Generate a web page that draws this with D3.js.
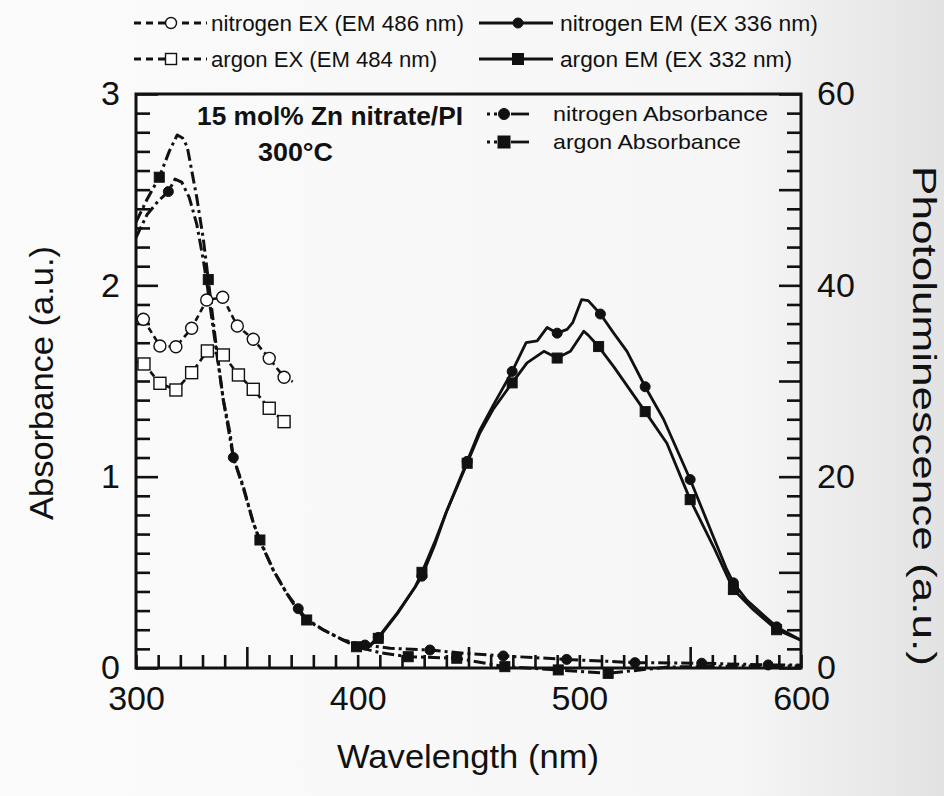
<!DOCTYPE html>
<html>
<head>
<meta charset="utf-8">
<script src="https://cdn.jsdelivr.net/npm/d3@7"></script>
<style>
  html, body { margin: 0; padding: 0; background: #f8f8f8; }
  svg { display: block; }
  text { font-family: "Liberation Sans", Arial, Helvetica, sans-serif; fill: #111; }
</style>
</head>
<body>
<svg id="chart" width="944" height="796"></svg>
<script>
// [wavelength nm, absorbance a.u.]
var nitrogenAbs = [[300,2.25],[305,2.37],[310,2.44],[314.6,2.49],[317.6,2.555],[320.6,2.54],[324,2.46],
  [327.4,2.32],[330.4,2.13],[332,2.01],[335.5,1.72],[339.4,1.40],[342.4,1.23],[343.9,1.10],[348.4,0.95],
  [352.9,0.76],[356,0.66],[362,0.51],[368,0.39],[373.2,0.31],[377,0.255],[384.5,0.20],[393.5,0.146],
  [403.3,0.12],[414.6,0.103],[432.6,0.094],[450,0.075],[465.7,0.063],[494.3,0.045],[525.1,0.028],
  [555.2,0.025],[585.2,0.016],[600,0.015]];
var nitrogenAbsMarks = [314.6, 343.9, 373.2, 403.3, 432.6, 465.7, 494.3, 525.1, 555.2, 585.2];

var argonAbs = [[300,2.33],[305,2.45],[310.5,2.565],[315,2.70],[318.6,2.786],[321,2.77],[323.1,2.725],
  [327.4,2.46],[330.4,2.24],[332.6,2.03],[336,1.70],[339.4,1.40],[343.9,1.10],[348.4,0.94],[352.9,0.76],
  [355.9,0.669],[362,0.51],[368,0.39],[373,0.30],[377,0.251],[384.5,0.199],[393.5,0.146],[399.5,0.111],
  [410,0.08],[422.8,0.059],[444.7,0.051],[466.4,0.007],[490.5,-0.01],[513,-0.028],[540,0.005],
  [570,0.01],[600,0.01]];
var argonAbsMarks = [310.5, 332.6, 355.9, 377, 399.5, 422.8, 444.7, 466.4, 490.5, 513];

// [wavelength nm, photoluminescence a.u.]
var nitrogenEx = [[303.3,36.45],[310.8,33.66],[318,33.58],[325.1,35.51],[331.9,38.47],[339.1,38.75],
  [345.7,35.75],[352.9,34.36],[360.1,32.37],[366.8,30.39],[370.7,29.93]];
var nitrogenExMarks = [303.3, 310.8, 318, 325.1, 331.9, 339.1, 345.7, 352.9, 360.1, 366.8];

var argonEx = [[303.6,31.78],[310.8,29.76],[318,29.06],[325.1,30.87],[332.2,33.14],[339.4,32.72],
  [346.2,30.63],[352.9,29.13],[360.1,27.15],[366.8,25.75]];
var argonExMarks = [303.6, 310.8, 318, 325.1, 332.2, 339.4, 346.2, 352.9, 360.1, 366.8];

var nitrogenEm = [[400,2.0],[405,2.3],[409.3,3.2],[418,5.8],[426,8.5],[429,9.6],[435,13.0],[440,16.3],
  [449.4,21.6],[455,24.8],[461,27.4],[469.7,31.0],[476,34.0],[481,34.2],[485.5,35.6],[490,35.0],
  [494.5,35.4],[497,36.1],[501,38.5],[504,38.4],[509.5,37.0],[515.5,35.0],[521.5,33.1],[529.7,29.4],
  [538,26.0],[550,19.7],[560.5,13.7],[566.5,10.3],[569.5,8.9],[575.5,7.1],[589,4.3],[600,2.9]];
var nitrogenEmMarks = [409.3, 429, 449.4, 469.7, 490, 509.5, 529.7, 550, 569.5, 589];

var argonEm = [[400,2.0],[405,2.2],[409.3,3.1],[418,5.7],[426,8.5],[429,10.0],[435,13.3],[440,16.3],
  [449.4,21.4],[455,24.5],[461,27.0],[469.7,29.8],[476.4,31.9],[484,33.1],[490,32.4],[496,33.1],
  [502,35.2],[504,34.8],[508.7,33.6],[515.5,31.5],[529.7,26.8],[539.5,23.5],[550,17.6],[560.5,12.7],
  [569.5,8.2],[578.5,6.1],[589,4.0],[600,2.9]];
var argonEmMarks = [409.3, 429, 449.4, 469.7, 490, 508.7, 529.7, 550, 569.5, 589];

var xTicks = d3.range(300, 601, 10);
var absTicks = d3.range(31).map(function(i) { return i / 10; });
var plTicks = d3.range(0, 61, 2);

var W = 944, H = 796;
var frame = { left: 136, right: 801, top: 94, bottom: 668 };
var ink = '#111';

var svg = d3.select('#chart');

var defs = svg.append('defs');
var paper = defs.append('linearGradient').attr('id', 'paper')
  .attr('x1', '0%').attr('x2', '100%').attr('y1', '0%').attr('y2', '0%');
paper.append('stop').attr('offset', '0%').attr('stop-color', '#fbfbfb');
paper.append('stop').attr('offset', '78%').attr('stop-color', '#f6f6f6');
paper.append('stop').attr('offset', '100%').attr('stop-color', '#e2e2e2');
svg.append('rect').attr('width', W).attr('height', H).attr('fill', 'url(#paper)');

var x = d3.scaleLinear().domain([300, 600]).range([frame.left, frame.right]);
var yAbs = d3.scaleLinear().domain([0, 3]).range([frame.bottom, frame.top]);
var yPL = d3.scaleLinear().domain([0, 60]).range([frame.bottom, frame.top]);

function styleAxis(g) {
  g.select('.domain').remove();
  g.selectAll('.tick line').attr('stroke', ink).attr('stroke-width', 2.6);
  g.selectAll('.tick text')
    .attr('font-size', 34)
    .attr('fill', ink)
    .attr('font-family', '"Liberation Sans", Arial, sans-serif');
}

function isWhole(d) { return Math.abs(d - Math.round(d)) < 1e-6; }

// bottom: minor every 10 nm, long ticks at the half hundreds
svg.append('g')
  .attr('transform', 'translate(0,' + frame.bottom + ')')
  .call(d3.axisBottom(x).tickValues(xTicks)
    .tickSizeInner(-13).tickSizeOuter(0).tickPadding(18)
    .tickFormat(function(d) { return d % 100 === 0 ? d : ''; }))
  .call(styleAxis)
  .selectAll('.tick line')
    .attr('y2', function(d) { return d % 100 === 50 ? -21 : -13; });

svg.append('g')
  .attr('transform', 'translate(' + frame.left + ',0)')
  .call(d3.axisLeft(yAbs).tickValues(absTicks)
    .tickSizeInner(-14).tickSizeOuter(0).tickPadding(16)
    .tickFormat(function(d) { return isWhole(d) ? Math.round(d) : ''; }))
  .call(styleAxis)
  .selectAll('.tick line')
    .attr('x2', function(d) { return isWhole(d) ? 22 : 14; });

svg.append('g')
  .attr('transform', 'translate(' + frame.right + ',0)')
  .call(d3.axisRight(yPL).tickValues(plTicks)
    .tickSizeInner(-14).tickSizeOuter(0).tickPadding(16)
    .tickFormat(function(d) { return d % 20 === 0 ? d : ''; }))
  .call(styleAxis)
  .selectAll('.tick line')
    .attr('x2', function(d) { return d % 10 === 0 ? -22 : -14; });

svg.append('rect')
  .attr('x', frame.left).attr('y', frame.top)
  .attr('width', frame.right - frame.left).attr('height', frame.bottom - frame.top)
  .attr('fill', 'none').attr('stroke', ink).attr('stroke-width', 3);

// axis titles
svg.append('text')
  .attr('x', 468).attr('y', 768)
  .attr('text-anchor', 'middle').attr('font-size', 33)
  .attr('textLength', 262).attr('lengthAdjust', 'spacingAndGlyphs')
  .text('Wavelength (nm)');

svg.append('text')
  .attr('transform', 'translate(53,383) rotate(-90)')
  .attr('text-anchor', 'middle').attr('font-size', 33)
  .attr('textLength', 274).attr('lengthAdjust', 'spacingAndGlyphs')
  .text('Absorbance (a.u.)');

svg.append('text')
  .attr('transform', 'translate(913,416) rotate(90)')
  .attr('text-anchor', 'middle').attr('font-size', 33)
  .attr('textLength', 500).attr('lengthAdjust', 'spacingAndGlyphs')
  .text('Photoluminescence (a.u.)');

// curves
function curve(yScale) {
  return d3.line()
    .x(function(d) { return x(d[0]); })
    .y(function(d) { return yScale(d[1]); });
}

function pick(data, marks) {
  return data.filter(function(d) { return marks.indexOf(d[0]) >= 0; });
}

var absDash = '12,4,3,4';
var exDash = '6,4';

var plot = svg.append('g');

function drawLine(data, yScale, dash, width) {
  plot.append('path')
    .datum(data)
    .attr('d', curve(yScale))
    .attr('fill', 'none')
    .attr('stroke', ink)
    .attr('stroke-width', width)
    .attr('stroke-linejoin', 'round')
    .attr('stroke-dasharray', dash);
}

function drawCircles(data, yScale, r, filled) {
  plot.append('g').selectAll('circle')
    .data(data)
    .enter().append('circle')
      .attr('cx', function(d) { return x(d[0]); })
      .attr('cy', function(d) { return yScale(d[1]); })
      .attr('r', r)
      .attr('fill', filled ? ink : '#fff')
      .attr('stroke', ink)
      .attr('stroke-width', filled ? 1 : 1.4);
}

function drawSquares(data, yScale, s, filled) {
  plot.append('g').selectAll('rect')
    .data(data)
    .enter().append('rect')
      .attr('x', function(d) { return x(d[0]) - s / 2; })
      .attr('y', function(d) { return yScale(d[1]) - s / 2; })
      .attr('width', s)
      .attr('height', s)
      .attr('fill', filled ? ink : '#fff')
      .attr('stroke', ink)
      .attr('stroke-width', filled ? 1 : 1.4);
}

drawLine(nitrogenEx, yPL, exDash, 2.6);
drawLine(argonEx, yPL, exDash, 2.6);
drawLine(argonAbs, yAbs, absDash, 3);
drawLine(nitrogenAbs, yAbs, absDash, 3);
drawLine(nitrogenEm, yPL, null, 2.8);
drawLine(argonEm, yPL, null, 2.8);

drawCircles(pick(nitrogenEx, nitrogenExMarks), yPL, 6, false);
drawSquares(pick(argonEx, argonExMarks), yPL, 12, false);
drawCircles(pick(nitrogenAbs, nitrogenAbsMarks), yAbs, 5, true);
drawSquares(pick(argonAbs, argonAbsMarks), yAbs, 10, true);
drawCircles(pick(nitrogenEm, nitrogenEmMarks), yPL, 5, true);
drawSquares(pick(argonEm, argonEmMarks), yPL, 10, true);

// annotation
svg.append('text')
  .attr('x', 197).attr('y', 125)
  .attr('font-size', 25).attr('font-weight', 'bold')
  .attr('textLength', 266).attr('lengthAdjust', 'spacingAndGlyphs')
  .text('15 mol% Zn nitrate/PI');

svg.append('text')
  .attr('x', 258).attr('y', 161)
  .attr('font-size', 25).attr('font-weight', 'bold')
  .attr('textLength', 75).attr('lengthAdjust', 'spacingAndGlyphs')
  .text('300\u00B0C');

// legends
var legend = svg.append('g');

function legendText(tx, ty, size, len, label) {
  legend.append('text')
    .attr('x', tx).attr('y', ty)
    .attr('dy', '0.35em')
    .attr('font-size', size)
    .attr('textLength', len).attr('lengthAdjust', 'spacingAndGlyphs')
    .text(label);
}

function legendSeg(x1, x2, ly, dash, width) {
  legend.append('line')
    .attr('x1', x1).attr('x2', x2).attr('y1', ly).attr('y2', ly)
    .attr('stroke', ink).attr('stroke-width', width)
    .attr('stroke-dasharray', dash);
}

function legendMark(mx, my, shape, filled, size) {
  if (shape === 'circle') {
    legend.append('circle')
      .attr('cx', mx).attr('cy', my).attr('r', size)
      .attr('fill', filled ? ink : '#fff')
      .attr('stroke', ink).attr('stroke-width', filled ? 1 : 1.4);
  } else {
    legend.append('rect')
      .attr('x', mx - size).attr('y', my - size)
      .attr('width', size * 2).attr('height', size * 2)
      .attr('fill', filled ? ink : '#fff')
      .attr('stroke', ink).attr('stroke-width', filled ? 1 : 1.4);
  }
}

// top legend, outside the frame
legendSeg(134, 207, 23, '7,5', 3);
legendMark(171, 23, 'circle', false, 5.5);
legendText(211, 23, 22, 253, 'nitrogen EX (EM 486 nm)');
legendSeg(479, 553, 23, null, 2.8);
legendMark(518, 23, 'circle', true, 5);
legendText(560, 23, 22, 258, 'nitrogen EM (EX 336 nm)');

legendSeg(134, 207, 59, '7,5', 3);
legendMark(171, 59, 'square', false, 5.5);
legendText(211, 59, 22, 226, 'argon EX (EM 484 nm)');
legendSeg(479, 553, 59, null, 2.8);
legendMark(518, 59, 'square', true, 5.5);
legendText(560, 59, 22, 232, 'argon EM (EX 332 nm)');

// absorbance legend, inside the frame
legendSeg(487, 498, 114, '3,4', 2.8);
legendSeg(511, 529, 114, null, 2.8);
legendMark(504, 114, 'circle', true, 5.5);
legendText(553, 114, 21, 215, 'nitrogen Absorbance');

legendSeg(487, 498, 142, '3,4', 2.8);
legendSeg(511, 529, 142, null, 2.8);
legendMark(504, 142, 'square', true, 6);
legendText(553, 142, 21, 188, 'argon Absorbance');
</script>
</body>
</html>
